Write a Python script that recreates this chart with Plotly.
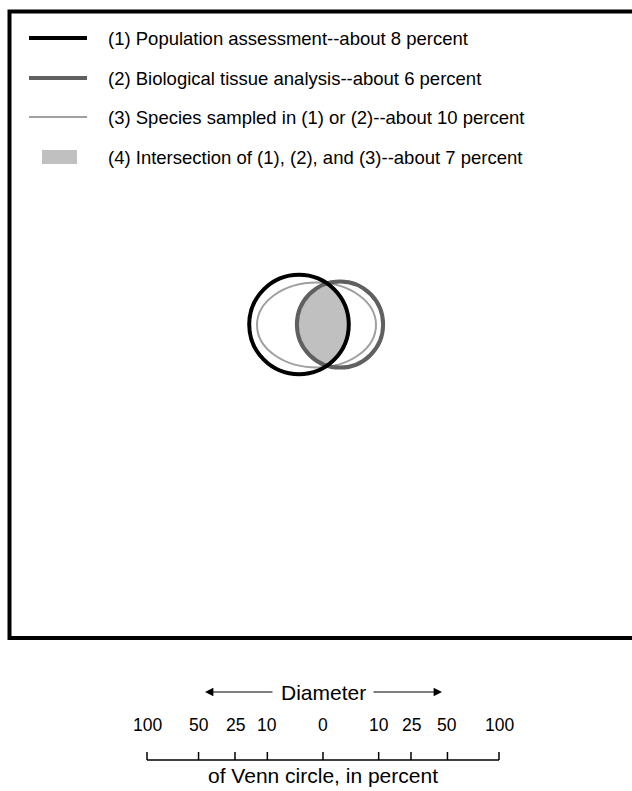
import numpy as np
import plotly.graph_objects as go

# legend entries
labels = [
    "(1) Population assessment--about 8 percent",
    "(2) Biological tissue analysis--about 6 percent",
    "(3) Species sampled in (1) or (2)--about 10 percent",
    "(4) Intersection of (1), (2), and (3)--about 7 percent",
]
percents = [8, 6, 10, 7]

# scale bar
scale_pct = [100, 50, 25, 10, 0, 10, 25, 50, 100]
scale_side = [-1, -1, -1, -1, 0, 1, 1, 1, 1]

W, H = 632, 791
FONT = "Liberation Sans, Arial, sans-serif"
PX100 = 176  # pixels for 100 percent on the scale


def rad(p):
    return PX100 * np.sqrt(p / 100)


fig = go.Figure()
shapes = []
ann = []

# frame (open on the right)
shapes.append(dict(type="path", path="M 640,11.5 L 9.5,11.5 L 9.5,638 L 640,638",
                   line=dict(color="black", width=4)))

# legend
ly = [38, 78, 117, 157]
sty = [("black", 4), ("#606060", 4), ("#a0a0a0", 2)]
for i in range(3):
    shapes.append(dict(type="line", x0=29, x1=87, y0=ly[i], y1=ly[i],
                       line=dict(color=sty[i][0], width=sty[i][1])))
shapes.append(dict(type="rect", x0=42, x1=77, y0=ly[3] - 7, y1=ly[3] + 7,
                   fillcolor="#c0c0c0", line=dict(width=0)))
for i, t in enumerate(labels):
    ann.append(dict(x=106, y=ly[i], text=t, showarrow=False, xanchor="left",
                    yanchor="middle", font=dict(size=18.5, color="black", family=FONT)))

# venn
c1 = (299, 324.5)
c2 = (340, 324.5)
r1, r2 = rad(percents[0]), rad(percents[1])
ec = (316.5, 325)
ea, eb = 59.5, 42.5

# lens (intersection of 1 and 2)
d = c2[0] - c1[0]
a = (d * d + r1 * r1 - r2 * r2) / (2 * d)
h = np.sqrt(r1 * r1 - a * a)
t1 = np.arctan2(h, a)
th = np.linspace(-t1, t1, 60)
xa = c1[0] + r1 * np.cos(th)
ya = c1[1] + r1 * np.sin(th)
t2 = np.arctan2(h, a - d)
th2 = np.linspace(t2, 2 * np.pi - t2, 60)
xb = c2[0] + r2 * np.cos(th2)
yb = c2[1] + r2 * np.sin(th2)
fig.add_trace(go.Scatter(x=np.r_[xa, xb], y=np.r_[ya, yb], fill="toself",
                         fillcolor="#c0c0c0", mode="none", hoverinfo="skip"))

shapes.append(dict(type="circle", x0=ec[0] - ea, x1=ec[0] + ea, y0=ec[1] - eb, y1=ec[1] + eb,
                   line=dict(color="#a0a0a0", width=2)))
shapes.append(dict(type="circle", x0=c2[0] - r2, x1=c2[0] + r2, y0=c2[1] - r2, y1=c2[1] + r2,
                   line=dict(color="#606060", width=4)))
shapes.append(dict(type="circle", x0=c1[0] - r1, x1=c1[0] + r1, y0=c1[1] - r1, y1=c1[1] + r1,
                   line=dict(color="black", width=4)))

# scale bar
cx, base, tick = 323, 760, 8
xs = [cx + s * rad(p) for p, s in zip(scale_pct, scale_side)]
shapes.append(dict(type="line", x0=min(xs), x1=max(xs), y0=base, y1=base,
                   line=dict(color="black", width=1.5)))
for x, p in zip(xs, scale_pct):
    shapes.append(dict(type="line", x0=x, x1=x, y0=base - tick, y1=base,
                       line=dict(color="black", width=1.5)))
    ann.append(dict(x=x, y=725, text=str(p), showarrow=False, yanchor="middle",
                    font=dict(size=17.5, color="black", family=FONT)))

ann.append(dict(x=cx, y=692, text="Diameter", showarrow=False, yanchor="middle",
                font=dict(size=21, color="black", family=FONT)))
ann.append(dict(x=cx, y=775, text="of Venn circle, in percent", showarrow=False,
                yanchor="middle", font=dict(size=21, color="black", family=FONT)))
for head, tail in [(205, 274), (442, 372)]:
    ann.append(dict(x=head, y=692, ax=tail, ay=692, xref="x", yref="y", axref="x", ayref="y",
                    text="", showarrow=True, arrowhead=2, arrowsize=1.4, arrowwidth=1.2,
                    arrowcolor="black"))

fig.update_layout(
    width=W, height=H, margin=dict(l=0, r=0, t=0, b=0),
    paper_bgcolor="white", plot_bgcolor="white", showlegend=False,
    shapes=shapes, annotations=ann,
    xaxis=dict(range=[0, W], visible=False, fixedrange=True),
    yaxis=dict(range=[H, 0], visible=False, fixedrange=True),
)
fig.write_html("out.html", config={"displayModeBar": False},
               post_script="document.body.style.margin='0';document.body.style.overflow='hidden';")
